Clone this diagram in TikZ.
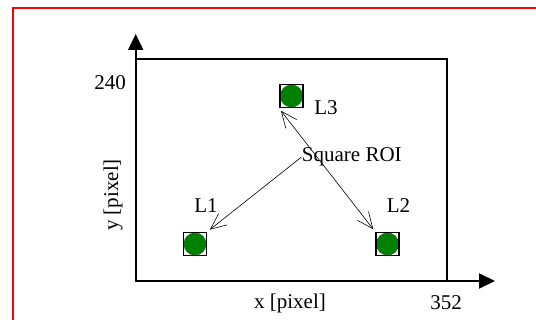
\documentclass[tikz,border=0pt]{standalone}
\usepackage{fontspec}
\setmainfont{Liberation Serif}
\usetikzlibrary{arrows.meta,calc}
\definecolor{ledgreen}{RGB}{0,128,0}

\begin{document}
\begin{tikzpicture}[
    x=0.5pt, y=-0.5pt,
    font=\fontsize{10.5}{12}\selectfont,
    lamp/.style={rectangle, draw, line width=0.9pt, minimum size=11.5pt, inner sep=0pt,
        path picture={\fill[ledgreen] (path picture bounding box.center) circle (5.7pt);}},
    label_node/.style={inner sep=0pt},
    axis/.style={-{Triangle[length=8pt,width=7.5pt]}, line width=1pt},
    pointer/.style={-{Straight Barb[length=8pt,width=7pt]}, line width=0.3pt, shorten >=1.5pt}
]
    \useasboundingbox (0,0) rectangle (536,320);
    \clip (0,0) rectangle (536,320);
    \draw[red, line width=0.85pt] (13,8) rectangle (560,340);

    \coordinate (origin) at (135.7,281);
    \coordinate (ytip) at (135.7,34);
    \coordinate (xtip) at (495,281);
    \draw[line width=1pt] (origin) rectangle (447,59.5);
    \draw[axis] (origin) -- (ytip);
    \draw[axis] (origin) -- (xtip);

        \node[label_node] (ymax) at (110,83) {240};
        \node[label_node] (xmax) at (446,303) {352};
        \node[label_node] (xlab) at (290,303) {x [pixel]};
        \node[label_node, rotate=90] (ylab) at (113,195) {y [pixel]};

        \node[lamp] (lamp1) at (195,244) {};
        \node[lamp] (lamp2) at (387.5,244) {};
        \node[lamp] (lamp3) at (291.5,96) {};
        \node[label_node] (name1) at (206,206) {L1};
        \node[label_node] (name2) at (398.5,206) {L2};
        \node[label_node] (name3) at (326,108) {L3};

        \node[label_node] (roi) at (351.8,157) {Square ROI};
    \coordinate (fork) at ($(lamp3.south west)!0.38!(lamp2.north west)$);
    \draw[pointer] (roi.west) -- (lamp1.north east);
    \draw[pointer] (fork) -- (lamp3.south west);
    \draw[pointer] (fork) -- (lamp2.north west);

\end{tikzpicture}
\end{document}
